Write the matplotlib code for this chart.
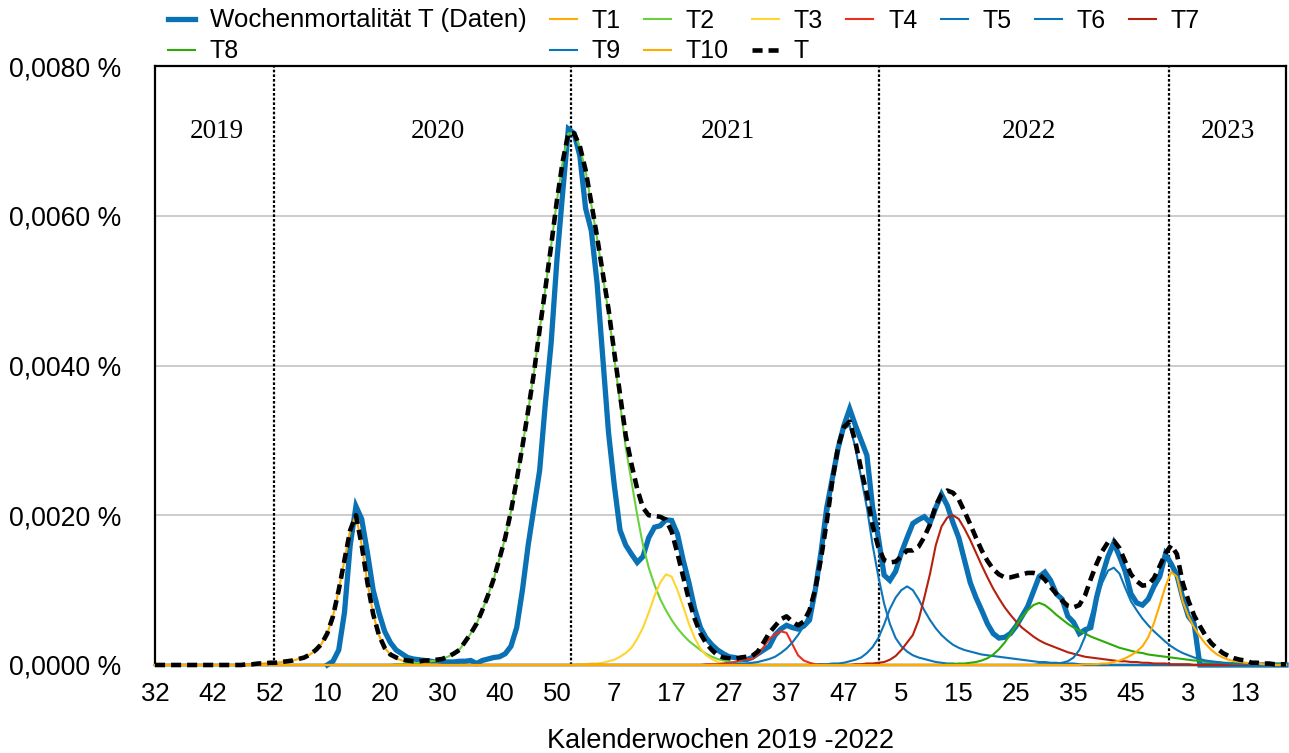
import numpy as np
import matplotlib
matplotlib.use("Agg")
import matplotlib.pyplot as plt
from matplotlib.ticker import FuncFormatter

plt.rcParams['font.family'] = ['Liberation Sans', 'DejaVu Sans']

# Weekly axis: index 0 = calendar week 32/2019, last index = week 21/2023
N_WEEKS = 198
week_tick_labels = ["32", "42", "52", "10", "20", "30", "40", "50", "7", "17",
                    "27", "37", "47", "5", "15", "25", "35", "45", "3", "13"]
year_names = ["2019", "2020", "2021", "2022", "2023"]
year_label_pos = [10.8, 49.3, 99.7, 152.3, 186.9]
year_breaks = [20.7, 72.4, 126.1, 176.6]

# Observed weekly mortality (in %), starting at week index 30
DATA_START = 30
data_values = [
    0.0, 0.00005, 0.0002, 0.0007, 0.0016, 0.00212, 0.00195, 0.0015, 0.001, 0.0007,
    0.00045, 0.0003, 0.0002, 0.00015, 0.0001, 0.00008, 0.00007, 0.00006, 0.00005, 0.00004,
    0.00004, 0.00004, 0.00004, 0.00005, 0.00005, 0.00006, 0.00002, 0.00006, 0.00008, 0.0001,
    0.00011, 0.00015, 0.00025, 0.0005, 0.001, 0.0016, 0.0021, 0.0026, 0.0035, 0.0043,
    0.0054, 0.0063, 0.00716, 0.0071, 0.0068, 0.0061, 0.0058, 0.0051, 0.0041, 0.0031,
    0.0024, 0.0018, 0.0016, 0.00148, 0.00137, 0.00145, 0.0017, 0.00184, 0.00186, 0.00194,
    0.00193, 0.00175, 0.0014, 0.0011, 0.00075, 0.0005, 0.00036, 0.00027, 0.0002, 0.00015,
    0.00011, 0.0001, 0.00008, 0.00007, 0.0001, 0.00015, 0.0002, 0.00025, 0.0004, 0.00048,
    0.00053, 0.0005, 0.00048, 0.00052, 0.0006, 0.001, 0.0015, 0.0021, 0.0025, 0.0029,
    0.0032, 0.00342, 0.0032, 0.003, 0.0028, 0.0021, 0.0017, 0.0012, 0.00113, 0.00125,
    0.0015, 0.0017, 0.00189, 0.00194, 0.00198, 0.0019, 0.0021, 0.00228, 0.00213, 0.0019,
    0.0017, 0.0014, 0.0011, 0.0009, 0.00073, 0.00055, 0.00042, 0.00036, 0.00037, 0.00042,
    0.00052, 0.00065, 0.00078, 0.00098, 0.00118, 0.00124, 0.00113, 0.00095, 0.00088, 0.00065,
    0.00057, 0.00042, 0.00047, 0.0005, 0.0009, 0.0012, 0.00145, 0.00163, 0.00145, 0.00125,
    0.00095, 0.00083, 0.0008, 0.00088, 0.00105, 0.00118, 0.00148, 0.00135, 0.0012, 0.0009,
    0.00065, 0.00055, 0.0, 0.0, 0.0, 0.0, 0.0, 0.0, 0.0, 0.0,
    0.0, 0.0, 0.0, 0.0, 0.0, 0.0, 0.0, 0.0,
]

# Wave components (in %), each given from its first non-zero week
T1_START = 16
T1_VALUES = [0.00001, 0.00001, 0.00002, 0.00002, 0.00003, 0.00003, 0.00004, 0.00005, 0.00006, 0.00008,
             0.0001, 0.00014, 0.0002, 0.00028, 0.00042, 0.00065, 0.001, 0.0014, 0.0018, 0.002,
             0.0016, 0.0011, 0.00068, 0.0004, 0.00023, 0.00014, 0.00009, 0.00006, 0.00004, 0.00003,
             0.00002, 0.00002, 0.00001, 0.00001]
T2_START = 42
T2_VALUES = [0.00001, 0.00001, 0.00002, 0.00002, 0.00003, 0.00004, 0.00005, 0.00006, 0.00008, 0.00011,
             0.00015, 0.0002, 0.00031, 0.00042, 0.00055, 0.00073, 0.00093, 0.00115, 0.00142, 0.0017,
             0.00205, 0.00247, 0.00292, 0.0034, 0.0039, 0.00448, 0.00503, 0.0056, 0.0062, 0.00672,
             0.0071, 0.0071, 0.00692, 0.0066, 0.00615, 0.0057, 0.0052, 0.0047, 0.0041, 0.0035,
             0.0029, 0.00245, 0.002, 0.0016, 0.0013, 0.00107, 0.00088, 0.00073, 0.0006, 0.00049,
             0.0004, 0.00032, 0.00026, 0.0002, 0.00015, 0.00011, 0.00008, 0.00006, 0.00004, 0.00003,
             0.00002, 0.00001, 0.00001]
T3_START = 74
T3_VALUES = [0.00001, 0.00001, 0.00002, 0.00002, 0.00003, 0.00005, 0.00007, 0.00011, 0.00016, 0.00023,
             0.00035, 0.0005, 0.0007, 0.00092, 0.0011, 0.00121, 0.00118, 0.001, 0.00078, 0.00055,
             0.00036, 0.00022, 0.00013, 0.00008, 0.00004, 0.00002, 0.00001]
T4_START = 96
T4_VALUES = [0.00001, 0.00001, 0.00001, 0.00002, 0.00003, 0.00004, 0.00006, 0.00008, 0.00008, 0.00014,
             0.00024, 0.00035, 0.00041, 0.00045, 0.00043, 0.00028, 0.00013, 0.00006, 0.00003, 0.00001,
             0.00001]
T5_START = 100
T5_VALUES = [0.00001, 0.00001, 0.00002, 0.00002, 0.00003, 0.00004, 0.00006, 0.00008, 0.00011, 0.00016,
             0.00022, 0.0003, 0.0004, 0.00052, 0.0007, 0.001, 0.0014, 0.0019, 0.00245, 0.0029,
             0.00315, 0.0032, 0.0029, 0.0025, 0.0021, 0.0016, 0.00118, 0.00082, 0.00055, 0.00036,
             0.00025, 0.00018, 0.00013, 0.0001, 0.00008, 0.00006, 0.00004, 0.00003, 0.00002, 0.00002,
             0.00001, 0.00001]
T6_START = 116
T6_VALUES = [0.00001, 0.00001, 0.00002, 0.00002, 0.00003, 0.00005, 0.00007, 0.0001, 0.00016, 0.00024,
             0.00036, 0.00054, 0.00075, 0.0009, 0.001, 0.00105, 0.001, 0.00088, 0.00073, 0.0006,
             0.00049, 0.0004, 0.00033, 0.00027, 0.00023, 0.0002, 0.00018, 0.00016, 0.00014, 0.00013,
             0.00012, 0.00011, 0.0001, 0.00009, 0.00008, 0.00007, 0.00006, 0.00005, 0.00004, 0.00004,
             0.00003, 0.00003, 0.00002, 0.00002, 0.00002, 0.00001, 0.00001, 0.00001]
T7_START = 122
T7_VALUES = [0.00001, 0.00001, 0.00002, 0.00002, 0.00003, 0.00004, 0.00007, 0.00012, 0.0002, 0.0003,
             0.0004, 0.0006, 0.0009, 0.00122, 0.0016, 0.00185, 0.00197, 0.002, 0.00195, 0.00182,
             0.00167, 0.0015, 0.00133, 0.00117, 0.00102, 0.00089, 0.00077, 0.00067, 0.00058, 0.0005,
             0.00044, 0.00038, 0.00033, 0.00029, 0.00026, 0.00023, 0.0002, 0.00017, 0.00015, 0.00013,
             0.00011, 0.0001, 0.00009, 0.00008, 0.00007, 0.00006, 0.00005, 0.00005, 0.00004, 0.00004,
             0.00003, 0.00003, 0.00002, 0.00002, 0.00002, 0.00001, 0.00001, 0.00001, 0.00001]
T8_START = 138
T8_VALUES = [0.00001, 0.00001, 0.00002, 0.00002, 0.00003, 0.00004, 0.00006, 0.00009, 0.00014, 0.00021,
             0.0003, 0.00041, 0.00053, 0.00064, 0.00073, 0.0008, 0.00083, 0.0008, 0.00074, 0.00067,
             0.00061, 0.00055, 0.0005, 0.00046, 0.00042, 0.00038, 0.00035, 0.00032, 0.00029, 0.00026,
             0.00023, 0.00021, 0.00019, 0.00017, 0.00016, 0.00014, 0.00013, 0.00012, 0.00011, 0.0001,
             0.00009, 0.00008, 0.00007, 0.00006, 0.00006, 0.00005, 0.00004, 0.00004, 0.00003, 0.00003,
             0.00002, 0.00002, 0.00002, 0.00001, 0.00001, 0.00001, 0.00001, 0.00001, 0.00001, 0.00001]
T9_START = 154
T9_VALUES = [0.00001, 0.00001, 0.00001, 0.00002, 0.00003, 0.00005, 0.0001, 0.0002, 0.00038, 0.00065,
             0.0009, 0.0011, 0.00126, 0.0013, 0.00122, 0.00103, 0.00085, 0.00073, 0.00062, 0.00053,
             0.00045, 0.00038, 0.00031, 0.00025, 0.0002, 0.00016, 0.00013, 0.0001, 0.00008, 0.00006,
             0.00005, 0.00004, 0.00003, 0.00002, 0.00002, 0.00001, 0.00001]
T10_START = 162
T10_VALUES = [0.00001, 0.00001, 0.00001, 0.00002, 0.00002, 0.00004, 0.00006, 0.00009, 0.00013, 0.00018,
              0.00025, 0.00037, 0.00056, 0.0008, 0.00105, 0.00124, 0.00118, 0.00085, 0.00065, 0.0005,
              0.00038, 0.00028, 0.0002, 0.00014, 0.0001, 0.00007, 0.00005, 0.00004, 0.00003, 0.00002,
              0.00002, 0.00001, 0.00001]

COL_DATA = "#0a71b4"
COL_ORANGE = "#ffab00"
COL_LGREEN = "#6ad13d"
COL_YELLOW = "#ffd52e"
COL_RED = "#ee2d1c"
COL_BLUE = "#0c74b8"
COL_DRED = "#b7200e"
COL_GREEN = "#2eaa06"

components = [
    ("T1", T1_START, T1_VALUES, COL_ORANGE),
    ("T2", T2_START, T2_VALUES, COL_LGREEN),
    ("T3", T3_START, T3_VALUES, COL_YELLOW),
    ("T4", T4_START, T4_VALUES, COL_RED),
    ("T5", T5_START, T5_VALUES, COL_BLUE),
    ("T6", T6_START, T6_VALUES, COL_BLUE),
    ("T7", T7_START, T7_VALUES, COL_DRED),
    ("T8", T8_START, T8_VALUES, COL_GREEN),
    ("T9", T9_START, T9_VALUES, COL_BLUE),
    ("T10", T10_START, T10_VALUES, COL_ORANGE),
]


def full_series(start, values):
    arr = np.zeros(N_WEEKS)
    arr[start:start + len(values)] = values
    return arr


weeks = np.arange(N_WEEKS)

W, H = 1289, 753
fig = plt.figure(figsize=(W / 100, H / 100), dpi=100)
ax = fig.add_axes([155 / W, 1 - 665 / H, (1286 - 155) / W, (665 - 66) / H])
ax.set_xlim(0, N_WEEKS - 1)
ax.set_ylim(0, 0.008)

handles = {}
data_x = np.arange(DATA_START, DATA_START + len(data_values))
handles["data"], = ax.plot(data_x, data_values, color=COL_DATA, lw=3.8,
                           solid_joinstyle="miter", clip_on=False, zorder=3,
                           label="Wochenmortalität T (Daten)")

total = np.zeros(N_WEEKS)
for name, start, vals, col in components:
    series = full_series(start, vals)
    total += series
    handles[name], = ax.plot(weeks, series, color=col, lw=1.5, clip_on=False,
                             zorder=4, label=name)

# model total = sum of all waves
handles["T"], = ax.plot(weeks, total, color="black", lw=3.3, dashes=(2.2, 1.3),
                        clip_on=False, zorder=5, label="T")

# year separators and labels
for xb in year_breaks:
    ax.axvline(xb, color="black", lw=1.6, linestyle=(0, (1.2, 0.9)), zorder=2)
for name, xp in zip(year_names, year_label_pos):
    ax.text(xp, 0.00713, name, ha="center", va="center",
            family=["Liberation Serif", "DejaVu Serif"], fontsize=19.5)

# axes styling
ax.set_yticks([0, 0.002, 0.004, 0.006, 0.008])
ax.yaxis.set_major_formatter(FuncFormatter(lambda v, p: f"{v:.4f}".replace(".", ",") + " %"))
ax.set_xticks(np.arange(len(week_tick_labels)) * 10)
ax.set_xticklabels(week_tick_labels)
ax.tick_params(axis="y", length=0, pad=24, labelsize=19.2)
ax.tick_params(axis="x", length=0, pad=12, labelsize=18.5)
ax.yaxis.grid(True, color="#c4c4c4", lw=1.2)
ax.set_axisbelow(True)
for sp in ax.spines.values():
    sp.set_linewidth(1.6)
    sp.set_color("black")
ax.set_xlabel("Kalenderwochen 2019 -2022", fontsize=19.5, labelpad=16)

order = ["data", "T8", "T1", "T9", "T2", "T10", "T3", "T", "T4", "T5", "T6", "T7"]
leg = fig.legend([handles[k] for k in order], [handles[k].get_label() for k in order],
                 loc="upper left", bbox_to_anchor=(163 / W, 1 - 3.5 / H), ncol=8,
                 frameon=False, fontsize=18, handlelength=1.08, handletextpad=0.6,
                 columnspacing=0.92, labelspacing=0.28, borderpad=0.2, borderaxespad=0)
leg.get_texts()[0].set_fontsize(18.6)

fig.savefig("out.png", dpi=100)
